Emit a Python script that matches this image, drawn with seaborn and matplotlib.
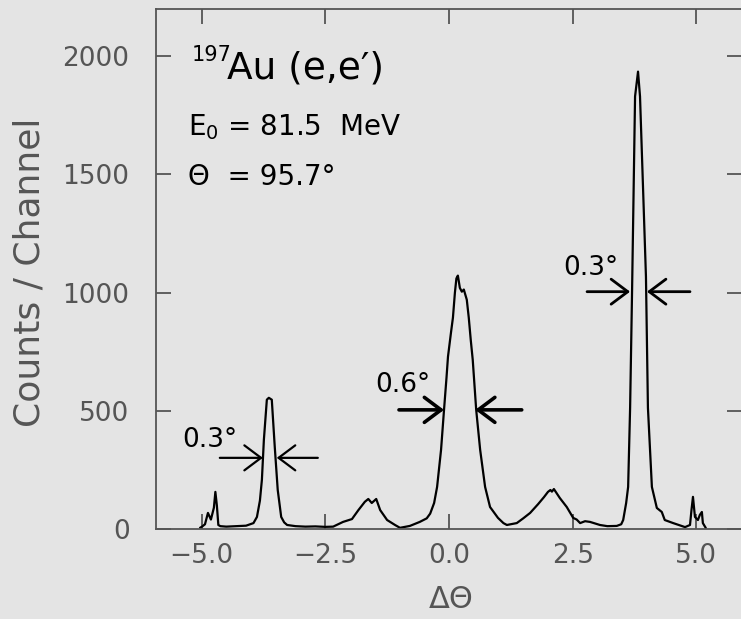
import matplotlib
matplotlib.use('Agg')
import matplotlib.pyplot as plt
import pandas as pd
import seaborn as sns

# spectrum
delta_theta = [-5.03, -4.99, -4.93, -4.87, -4.81, -4.75, -4.72, -4.69, -4.66, -4.62, -4.50, -4.30,
               -4.10, -3.95, -3.88, -3.82, -3.78, -3.74, -3.68, -3.64, -3.58, -3.52, -3.46, -3.39,
               -3.33, -3.27, -3.10, -2.90, -2.70, -2.50, -2.34, -2.14, -1.96, -1.83, -1.70, -1.63,
               -1.56, -1.47, -1.39, -1.25, -1.09, -0.99, -0.79, -0.59, -0.45, -0.38, -0.30, -0.24,
               -0.16, -0.10, -0.05, -0.02, 0.04, 0.08, 0.12, 0.15, 0.18, 0.22, 0.26, 0.30,
               0.36, 0.40, 0.44, 0.48, 0.55, 0.63, 0.73, 0.83, 0.99, 1.10, 1.17, 1.37,
               1.50, 1.64, 1.80, 1.92, 2.00, 2.05, 2.08, 2.12, 2.24, 2.38, 2.51, 2.58,
               2.65, 2.75, 2.85, 3.05, 3.20, 3.39, 3.48, 3.52, 3.58, 3.62, 3.66, 3.70,
               3.76, 3.82, 3.86, 3.92, 3.98, 4.02, 4.10, 4.20, 4.30, 4.36, 4.53, 4.77,
               4.87, 4.90, 4.93, 4.97, 5.03, 5.07, 5.11, 5.13, 5.19]
counts = [5, 10, 20, 68, 40, 90, 157, 100, 17, 12, 10, 12,
          14, 25, 51, 120, 208, 377, 547, 555, 547, 347, 165, 51,
          28, 17, 12, 10, 11, 9, 10, 30, 42, 80, 115, 127,
          110, 127, 80, 38, 17, 5, 13, 30, 45, 65, 110, 178,
          335, 504, 640, 729, 830, 894, 1000, 1060, 1072, 1020, 1004, 1013,
          970, 894, 800, 716, 504, 335, 178, 93, 47, 25, 17, 25,
          45, 68, 105, 135, 157, 165, 158, 169, 131, 93, 47, 40,
          25, 33, 30, 17, 12, 13, 20, 38, 110, 178, 513, 1013,
          1830, 1935, 1830, 1450, 1068, 513, 178, 89, 72, 38, 25, 8,
          17, 80, 136, 51, 38, 60, 72, 25, 4]

xticks = [-5.0, -2.5, 0.0, 2.5, 5.0]
yticks = [0, 500, 1000, 1500, 2000]

# FWHM markers: (tail, tip) for the left and right arrow at a given height
fwhm_text = ['0.3°', '0.6°', '0.3°']
fwhm_level = [301, 504, 1004]
fwhm_left = [(-4.63, -3.76), (-1.01, -0.10), (2.79, 3.66)]
fwhm_right = [(-2.65, -3.48), (1.47, 0.53), (4.87, 4.00)]
fwhm_text_pos = [(-5.39, 347), (-1.49, 580), (2.30, 1076)]
fwhm_lw = [1.6, 2.6, 2.0]

df = pd.DataFrame({'dtheta': delta_theta, 'counts': counts})

sns.set_style('ticks')
plt.rcParams['font.family'] = ['DejaVu Sans']
bg = '#e4e4e4'
grey = '#555555'

fig = plt.figure(figsize=(7.41, 6.19), dpi=100, facecolor=bg)
ax = fig.add_axes([0.2105, 0.1454, 0.7908, 0.8401])
ax.set_facecolor(bg)

sns.lineplot(data=df, x='dtheta', y='counts', ax=ax, color='black', lw=1.6,
             estimator=None, sort=False)

ax.set_xlim(-5.92, 5.92)
ax.set_ylim(0, 2200)
ax.set_xticks(xticks)
ax.set_xticklabels([f'{v:.1f}'.replace('-', '\u2212') for v in xticks])
ax.set_yticks(yticks)
ax.set_yticklabels([str(v) for v in yticks])
ax.tick_params(axis='both', direction='in', length=11, width=1.3, color=grey,
               labelsize=19, labelcolor=grey, top=True, right=True)
ax.tick_params(axis='x', pad=10)
ax.tick_params(axis='y', pad=19)
for sp in ax.spines.values():
    sp.set_color(grey)
    sp.set_linewidth(1.3)

ax.set_xlabel('ΔΘ', fontsize=22, color=grey)
ax.xaxis.set_label_coords(0.503, -0.108)
ax.set_ylabel('')
fig.text(30 / 741, 1 - 272 / 619, 'Counts / Channel', fontsize=26, color=grey,
         rotation=90, ha='center', va='center')

# header text
ax.text(0.0614, 0.931, '197', transform=ax.transAxes, fontsize=15, va='top', ha='left',
        color='black')
ax.text(0.121, 0.867, "Au (e,e′)", transform=ax.transAxes, fontsize=27, va='baseline',
        ha='left', color='black')
ax.text(0.0546, 0.758, r'E$_0$ = 81.5  MeV', transform=ax.transAxes, fontsize=20,
        va='baseline', ha='left', color='black')
ax.text(0.0546, 0.6615, 'Θ  = 95.7°', transform=ax.transAxes, fontsize=20,
        va='baseline', ha='left', color='black')

# FWHM arrows
for txt, yl, left, right, pos, lw in zip(fwhm_text, fwhm_level, fwhm_left, fwhm_right,
                                         fwhm_text_pos, fwhm_lw):
    for tail, tip in (left, right):
        ax.annotate('', xy=(tip, yl), xytext=(tail, yl),
                    arrowprops=dict(arrowstyle='->,head_length=0.6,head_width=0.45',
                                    color='black', lw=lw, mutation_scale=20,
                                    shrinkA=0, shrinkB=0))
    ax.text(pos[0], pos[1], txt, fontsize=19, ha='left', va='baseline', color='black')

fig.savefig('out.png', dpi=100, facecolor=bg)
